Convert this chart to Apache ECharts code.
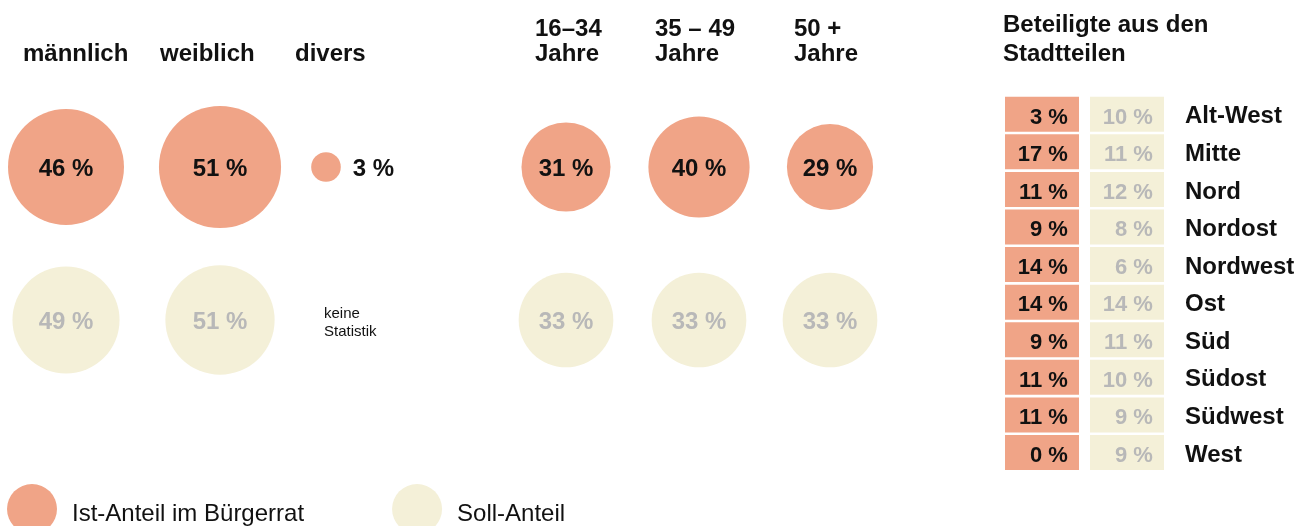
<!DOCTYPE html>
<html>
<head>
<meta charset="utf-8">
<script src="https://cdn.jsdelivr.net/npm/echarts@6/dist/echarts.min.js"></script>
<style>
html,body{margin:0;padding:0;background:#fff;}
#chart{width:1307px;height:526px;}
</style>
</head>
<body>
<div id="chart"></div>
<script>
// ---- data ----
const genderCats = ['männlich', 'weiblich', 'divers'];
const genderIst = [46, 51, 3];
const genderSoll = [49, 51, null];
const ageCats = ['16–34\nJahre', '35 – 49\nJahre', '50 +\nJahre'];
const ageIst = [31, 40, 29];
const ageSoll = [33, 33, 33];
const districts = ['Alt-West', 'Mitte', 'Nord', 'Nordost', 'Nordwest', 'Ost', 'Süd', 'Südost', 'Südwest', 'West'];
const districtIst = [3, 17, 11, 9, 14, 14, 9, 11, 11, 0];
const districtSoll = [10, 11, 12, 8, 6, 14, 11, 10, 9, 9];
const rows = ['Ist', 'Soll'];
const IST = 'Ist-Anteil im Bürgerrat';
const SOLL = 'Soll-Anteil';
const noStat = 'keine\nStatistik';
const tableTitle = 'Beteiligte aus den\nStadtteilen';

// ---- styles / layout ----
const FONT = 'Liberation Sans, Arial, Helvetica, sans-serif';
const C_IST = '#f0a487';
const C_SOLL = '#f4f0d8';
const C_GRAY = '#b8b8b8';
const C_TEXT = '#111111';

const genderX = [66, 220, 326];
const ageX = [566, 699, 830];
const genderHeadX = [23, 160, 295];
const ageHeadX = [535, 655, 794];
const bubbleTop = 90.5, bubbleH = 306;

const grids = [], xAxes = [], yAxes = [], series = [], graphics = [];

function addColumn(cx, cat, ist, soll, kIst, kSoll, istLabelRight) {
  const gi = grids.length;
  grids.push({left: cx - 50, width: 100, top: bubbleTop, height: bubbleH});
  xAxes.push({type: 'category', gridIndex: gi, data: [cat], show: false});
  yAxes.push({type: 'category', gridIndex: gi, data: rows, inverse: true, show: false});
  series.push({
    type: 'scatter', name: IST, xAxisIndex: gi, yAxisIndex: gi,
    data: [[0, 0, ist]],
    symbolSize: v => 2 * kIst * Math.sqrt(v[2]),
    itemStyle: {color: C_IST, opacity: 1},
    label: {
      show: true, position: istLabelRight ? 'right' : 'inside', distance: 12, offset: [0, 2],
      formatter: p => p.value[2] + ' %',
      color: C_TEXT, fontFamily: FONT, fontWeight: 'bold', fontSize: 24
    },
    emphasis: {disabled: true}, silent: true
  });
  series.push({
    type: 'scatter', name: SOLL, xAxisIndex: gi, yAxisIndex: gi,
    data: soll == null ? [] : [[0, 1, soll]],
    symbolSize: v => 2 * kSoll * Math.sqrt(v[2]),
    itemStyle: {color: C_SOLL, opacity: 1},
    label: {
      show: true, position: 'inside', offset: [0, 2],
      formatter: p => p.value[2] + ' %',
      color: C_GRAY, fontFamily: FONT, fontWeight: 'bold', fontSize: 24
    },
    emphasis: {disabled: true}, silent: true
  });
}

genderCats.forEach((c, i) => addColumn(genderX[i], c, genderIst[i], genderSoll[i], 8.55, 7.65, genderIst[i] < 10));
ageCats.forEach((c, i) => addColumn(ageX[i], c, ageIst[i], ageSoll[i], 8.0, 8.24, false));

// headers
genderCats.forEach((c, i) => graphics.push({
  type: 'text', x: genderHeadX[i], y: 54.5,
  style: {text: c, font: 'bold 24px ' + FONT, fill: C_TEXT, textVerticalAlign: 'middle'}
}));
ageCats.forEach((c, i) => graphics.push({
  type: 'text', x: ageHeadX[i], y: 42,
  style: {text: c, font: 'bold 24px ' + FONT, fill: C_TEXT, lineHeight: 25, textVerticalAlign: 'middle'}
}));
graphics.push({
  type: 'text', x: 324, y: 322.5,
  style: {text: noStat, font: '15px ' + FONT, fill: C_TEXT, lineHeight: 18, textVerticalAlign: 'middle'}
});
graphics.push({
  type: 'text', x: 1003, y: 40,
  style: {text: tableTitle, font: 'bold 24px ' + FONT, fill: C_TEXT, lineHeight: 29, textVerticalAlign: 'middle'}
});

// table
const tg = grids.length;
grids.push({left: 999.5, width: 170, top: 95.5, height: 375.8});
xAxes.push({type: 'category', gridIndex: tg, data: rows, show: false});
yAxes.push({
  type: 'category', gridIndex: tg, data: districts, inverse: true, position: 'right',
  axisLine: {show: false}, axisTick: {show: false}, splitLine: {show: false},
  axisLabel: {margin: 15.5, align: 'left', verticalAlign: 'top', lineHeight: 5, color: C_TEXT, fontFamily: FONT, fontWeight: 'bold', fontSize: 24}
});
function tableSeries(name, col, values, color, textColor) {
  return {
    type: 'scatter', name: name, xAxisIndex: tg, yAxisIndex: tg,
    data: values.map((v, i) => [col, i, v]),
    symbol: 'rect', symbolSize: [74, 35],
    itemStyle: {color: color, opacity: 1},
    label: {
      show: true, position: ['85%', '59%'], align: 'right', verticalAlign: 'middle',
      formatter: p => p.value[2] + ' %',
      color: textColor, fontFamily: FONT, fontWeight: 'bold', fontSize: 22
    },
    emphasis: {disabled: true}, silent: true
  };
}
series.push(tableSeries(IST, 0, districtIst, C_IST, C_TEXT));
series.push(tableSeries(SOLL, 1, districtSoll, C_SOLL, C_GRAY));

const chart = echarts.init(document.getElementById('chart'), null, {renderer: 'canvas'});
chart.setOption({
  animation: false,
  backgroundColor: '#ffffff',
  grid: grids, xAxis: xAxes, yAxis: yAxes, series: series,
  graphic: graphics,
  legend: {
    data: [{name: IST, itemStyle: {color: C_IST}}, {name: SOLL, itemStyle: {color: C_SOLL}}],
    left: 2, top: 479, orient: 'horizontal',
    icon: 'circle', itemWidth: 50, itemHeight: 50, itemGap: 88,
    selectedMode: false,
    formatter: name => '{a|' + name + '}',
    textStyle: {
      fontFamily: FONT, fontSize: 24, color: C_TEXT,
      rich: {a: {fontFamily: FONT, fontSize: 24, color: C_TEXT, padding: [10, 0, 0, 10]}}
    }
  }
});
</script>
</body>
</html>
